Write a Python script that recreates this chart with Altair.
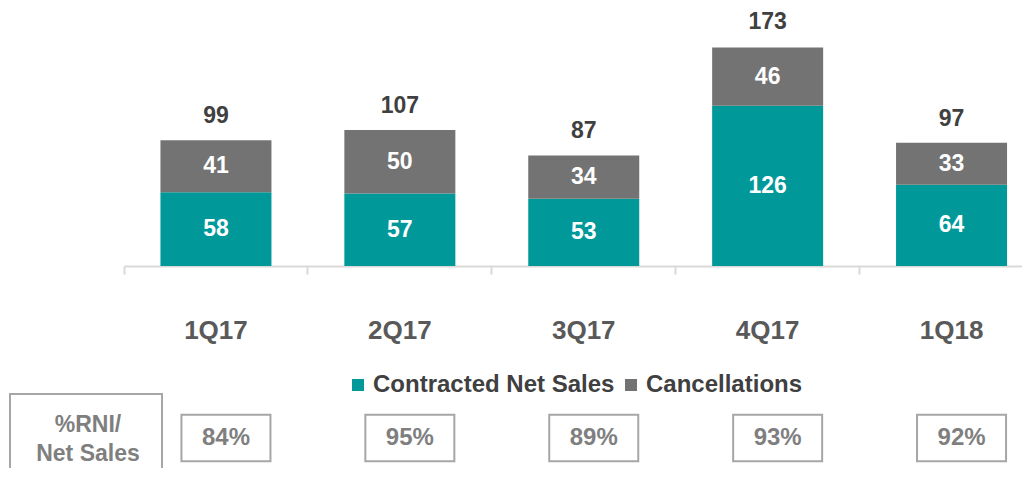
import altair as alt
import pandas as pd

quarters = ["1Q17", "2Q17", "3Q17", "4Q17", "1Q18"]
contracted = [58, 57, 53, 126, 64]
cancellations = [41, 50, 34, 46, 33]
totals = [99, 107, 87, 173, 97]
rni_pct = ["84%", "95%", "89%", "93%", "92%"]
series = ["Contracted Net Sales", "Cancellations"]
colors = ["#009899", "#727372"]
header_lines = ["%RNI/", "Net Sales"]

FONT = "Liberation Sans"

rows = []
for i, q in enumerate(quarters):
    rows.append({"quarter": q, "series": series[0], "idx": 0, "value": contracted[i]})
    rows.append({"quarter": q, "series": series[1], "idx": 1, "value": cancellations[i]})
bars_df = pd.DataFrame(rows)
tot_df = pd.DataFrame({"quarter": quarters, "total": totals, "pct": rni_pct})
head_df = pd.DataFrame({"label": ["\n".join(header_lines)]})

W, H = 1014, 258

x_scale = alt.Scale(range=[116, 1035.5], paddingInner=0, paddingOuter=0)
y_scale = alt.Scale(domain=[0, 203], nice=False)

x_enc = alt.X("quarter:N", sort=quarters, scale=x_scale, title=None)
y_axis = None

bars = alt.Chart(bars_df).mark_bar(size=111).encode(
    x=x_enc,
    y=alt.Y("value:Q", stack="zero", scale=y_scale, axis=None),
    color=alt.Color(
        "series:N",
        scale=alt.Scale(domain=series, range=colors),
        legend=alt.Legend(
            title=None, orient="none", legendX=338, legendY=365,
            direction="horizontal", symbolType="square", symbolSize=144,
            symbolStrokeWidth=0, labelFont=FONT, labelFontSize=24,
            labelFontWeight="bold", labelColor="#404040", labelOffset=3,
            columnPadding=4, labelLimit=400,
        ),
    ),
    order=alt.Order("idx:Q", sort="ascending"),
)

seg_labels = alt.Chart(bars_df).transform_stack(
    stack="value", groupby=["quarter"], as_=["y0", "y1"],
    sort=[alt.SortField("idx", order="ascending")],
).transform_calculate(
    mid="(datum.y0 + datum.y1) / 2"
).mark_text(
    font=FONT, fontSize=23, fontWeight="bold", color="white", baseline="middle"
).encode(
    x=x_enc,
    y=alt.Y("mid:Q", scale=y_scale, axis=None),
    text="value:Q",
)

total_labels = alt.Chart(tot_df).mark_text(
    font=FONT, fontSize=23, fontWeight="bold", color="#404040",
    baseline="middle", dy=-24,
).encode(
    x=x_enc,
    y=alt.Y("total:Q", scale=y_scale, axis=None),
    text="total:Q",
)

boxes = alt.Chart(tot_df).mark_point(
    shape="M-1,-0.52H1V0.52H-1Z", size=7921, filled=True, fill="white",
    stroke="#a6a6a6", strokeWidth=2, opacity=1, xOffset=10,
).encode(
    x=x_enc,
    y=alt.value(430),
)

box_text = alt.Chart(tot_df).mark_text(
    font=FONT, fontSize=24, fontWeight="bold", color="#7f7f7f",
    baseline="middle", xOffset=10,
).encode(
    x=x_enc,
    y=alt.value(430),
    text="pct:N",
)

head_box = alt.Chart(head_df).mark_rect(
    fill="white", stroke="#a6a6a6", strokeWidth=2
).encode(
    x=alt.value(2), x2=alt.value(154), y=alt.value(386), y2=alt.value(470)
)

head_text = alt.Chart(head_df).mark_text(
    font=FONT, fontSize=23, fontWeight="bold", color="#7f7f7f",
    baseline="middle", lineBreak="\n", lineHeight=29,
).encode(
    x=alt.value(80), y=alt.value(417), text="label:N"
)

chart = alt.layer(
    bars, seg_labels, total_labels, boxes, box_text, head_box, head_text
).properties(
    width=W, height=H,
    autosize=alt.AutoSizeParams(type="none"),
    padding={"left": 0, "top": 0, "right": 0, "bottom": 202},
    background="white",
).configure_view(
    strokeWidth=0
).configure_axisX(
    bandPosition=0, domainColor="#d9d9d9", domainWidth=2,
    tickColor="#d9d9d9", tickWidth=2, tickSize=8,
    labelFont=FONT, labelFontSize=26, labelFontWeight="bold",
    labelColor="#595959", labelPadding=56, labelBaseline="middle", labelAngle=0,
    grid=False,
)

chart.save("out.html", embed_options={"renderer": "svg", "actions": False})
